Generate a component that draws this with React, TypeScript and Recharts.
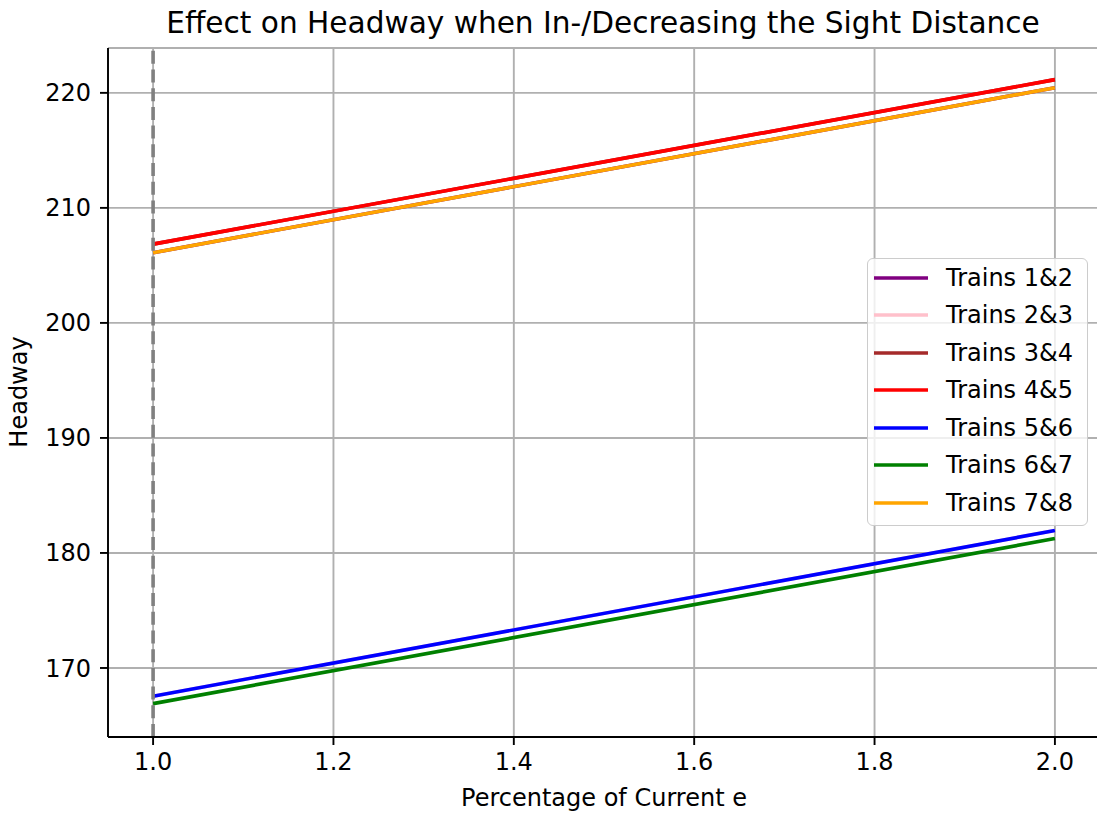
import React from 'react';
import { LineChart, Line, XAxis, YAxis, CartesianGrid, ReferenceLine, Legend, Label } from 'recharts';

const FONT = '"DejaVu Sans", sans-serif';

const xValues = [1.0, 2.0];
const trains12 = [206.1, 220.45];
const trains23 = [167.55, 181.95];
const trains34 = [206.85, 221.15];
const trains45 = [206.85, 221.15];
const trains56 = [167.55, 181.95];
const trains67 = [166.9, 181.25];
const trains78 = [206.1, 220.45];

const seriesNames = ['Trains 1&2', 'Trains 2&3', 'Trains 3&4', 'Trains 4&5', 'Trains 5&6', 'Trains 6&7', 'Trains 7&8'];
const seriesColors = ['#800080', '#ffc0cb', '#a52a2a', '#ff0000', '#0000ff', '#008000', '#ffa500'];
const seriesValues = [trains12, trains23, trains34, trains45, trains56, trains67, trains78];

const xTicks = [1.0, 1.2, 1.4, 1.6, 1.8, 2.0];
const yTicks = [170, 180, 190, 200, 210, 220];
const xDomain = [0.95, 2.05];
const yDomain = [164.0, 223.9];

const titleText = 'Effect on Headway when In-/Decreasing the Sight Distance';
const xLabelText = 'Percentage of Current e';
const yLabelText = 'Headway';

const data = xValues.map((x, i) => {
  const row: Record<string, number> = { x };
  seriesNames.forEach((_, k) => {
    row['s' + k] = seriesValues[k][i];
  });
  return row;
});

const LegendBox = () => (
  <div
    style={{
      position: 'relative',
      width: 221,
      height: 268,
      boxSizing: 'border-box',
      border: '1.7px solid #cccccc',
      borderRadius: 6,
      background: 'rgba(255,255,255,0.8)',
      fontFamily: FONT,
      fontSize: 24,
      color: '#000',
    }}
  >
    {seriesNames.map((name, i) => (
      <div
        key={name}
        style={{
          position: 'absolute',
          left: 6,
          top: Math.round(20.3 + 37.5 * i - 12 - 1.7),
          height: 24,
          lineHeight: '24px',
          display: 'flex',
          alignItems: 'center',
          whiteSpace: 'nowrap',
        }}
      >
        <svg width={54} height={24} style={{ display: 'block' }}>
          <line x1={0} x2={54} y1={12} y2={12} stroke={seriesColors[i]} strokeWidth={3.6} />
        </svg>
        <span style={{ marginLeft: 18 }}>{name}</span>
      </div>
    ))}
  </div>
);

export default function App() {
  return (
    <div style={{ position: 'absolute', left: 0, top: 0, width: 1097, height: 817, overflow: 'hidden', background: '#fff' }}>
      <LineChart width={1100} height={817} data={data} margin={{ top: 48, right: 0, bottom: 0, left: 0 }}>
        <CartesianGrid stroke="#b0b0b0" strokeWidth={1.9} horizontal vertical />
        <XAxis
          dataKey="x"
          type="number"
          domain={xDomain}
          ticks={xTicks}
          allowDataOverflow
          tickFormatter={(v: number) => v.toFixed(1)}
          height={80}
          tickSize={8}
          tickMargin={8}
          axisLine={{ stroke: '#000', strokeWidth: 1.9 }}
          tickLine={{ stroke: '#000', strokeWidth: 1.9 }}
          tick={{ fill: '#000', fontSize: 24, fontFamily: FONT }}
        >
          <Label
            content={() => (
              <g>
                <text x={604} y={806} textAnchor="middle" fontSize={24} fontFamily={FONT} fill="#000">
                  {xLabelText}
                </text>
                <text x={603} y={33} textAnchor="middle" fontSize={29.6} fontFamily={FONT} fill="#000">
                  {titleText}
                </text>
              </g>
            )}
          />
        </XAxis>
        <XAxis
          xAxisId="top"
          orientation="top"
          dataKey="x"
          type="number"
          domain={xDomain}
          height={0}
          tick={false}
          tickLine={false}
          axisLine={{ stroke: '#000', strokeWidth: 1.9 }}
        />
        <YAxis
          type="number"
          domain={yDomain}
          ticks={yTicks}
          allowDataOverflow
          width={108}
          tickSize={8}
          tickMargin={9}
          axisLine={{ stroke: '#000', strokeWidth: 1.9 }}
          tickLine={{ stroke: '#000', strokeWidth: 1.9 }}
          tick={{ fill: '#000', fontSize: 24, fontFamily: FONT }}
        >
          <Label
            content={() => (
              <text
                x={27}
                y={392}
                transform="rotate(-90 27 392)"
                textAnchor="middle"
                fontSize={24}
                fontFamily={FONT}
                fill="#000"
              >
                {yLabelText}
              </text>
            )}
          />
        </YAxis>
        {seriesNames.map((name, k) => (
          <Line
            key={name}
            dataKey={'s' + k}
            name={name}
            stroke={seriesColors[k]}
            strokeWidth={3.6}
            dot={false}
            activeDot={false}
            isAnimationActive={false}
            type="linear"
          />
        ))}
        <ReferenceLine x={1.0} stroke="#808080" strokeWidth={3.6} strokeDasharray="13 5.7" />
        <Legend
          layout="horizontal"
          verticalAlign="middle"
          align="center"
          content={() => <LegendBox />}
          wrapperStyle={{ position: 'absolute', left: 867, top: 258, width: 221, height: 268, margin: 0 }}
        />
      </LineChart>
    </div>
  );
}
